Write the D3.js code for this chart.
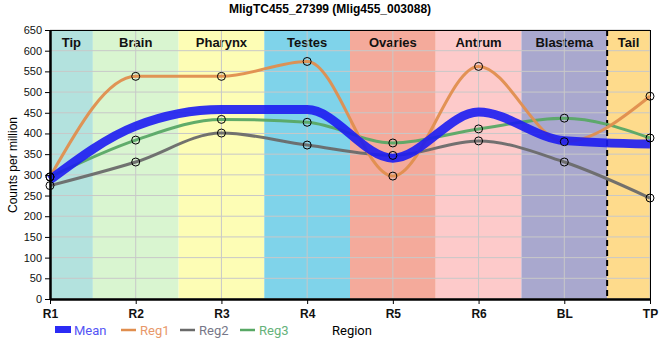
<!DOCTYPE html>
<html><head><meta charset="utf-8">
<script src="https://cdn.jsdelivr.net/npm/d3@7"></script>
<style>body{margin:0;background:#fff}svg{display:block}</style>
</head><body><svg id="c" width="660" height="360"></svg>
<script>
const title = "MligTC455_27399 (Mlig455_003088)";
const categories = ["R1","R2","R3","R4","R5","R6","BL","TP"];
const reg1 = [295, 538, 538, 574, 297, 562, 380, 490];
const reg2 = [274, 331, 401, 372, 347, 382, 331, 244];
const reg3 = [295, 384, 434, 427, 377, 411, 437, 389];
const mean = categories.map((_, i) => (reg1[i] + reg2[i] + reg3[i]) / 3);
const regionNames = ["Tip","Brain","Pharynx","Testes","Ovaries","Antrum","Blastema","Tail"];
const regionColors = ["#b3e2de","#d9f5d0","#fdfdb5","#7fd3ea","#f4aa9b","#fdcaca","#a9a8ce","#fedb8c"];
const yTicks = d3.range(0, 651, 50);

const svg = d3.select("#c");
const L = 50, R = 650, T = 30, B = 299;
const x = d3.scalePoint().domain(categories).range([L, R]);
const y = d3.scaleLinear().domain([0, 650]).range([B, T]);
const step = x.step();

// bands
regionNames.forEach((n, i) => {
  const cx = x(categories[i]);
  const x0 = Math.max(L, cx - step / 2), x1 = Math.min(R, cx + step / 2);
  svg.append("rect").attr("x", x0).attr("y", T).attr("width", x1 - x0).attr("height", B - T)
    .attr("fill", regionColors[i]);
  svg.append("text").attr("x", (x0 + x1) / 2).attr("y", T + 17).attr("text-anchor", "middle")
    .attr("font-family", "Liberation Sans, Arial, sans-serif").attr("font-weight", "bold")
    .attr("font-size", 13).attr("fill", "#111").text(n);
});

// grid
svg.append("g").selectAll("line").data(yTicks).join("line")
  .attr("x1", L).attr("x2", R).attr("y1", d => y(d)).attr("y2", d => y(d))
  .attr("stroke", "#c8c8c8").attr("stroke-width", 1);
svg.append("g").selectAll("line").data(categories).join("line")
  .attr("x1", d => x(d)).attr("x2", d => x(d)).attr("y1", T).attr("y2", B)
  .attr("stroke", "#c8c8c8").attr("stroke-width", 1);

// dashed separator between BL and TP
const sep = x("BL") + step / 2;
svg.append("line").attr("x1", sep).attr("x2", sep).attr("y1", T).attr("y2", B)
  .attr("stroke", "#000").attr("stroke-width", 2).attr("stroke-dasharray", "6,4");

// border
svg.append("line").attr("x1", L).attr("x2", R).attr("y1", T + 0.5).attr("y2", T + 0.5).attr("stroke", "#000");
svg.append("line").attr("x1", R + 0.5).attr("x2", R + 0.5).attr("y1", T).attr("y2", B).attr("stroke", "#000");

// lines
const line = d3.line().x((d, i) => x(categories[i])).y(d => y(d)).curve(d3.curveMonotoneX);
const series = [
  {name: "Reg2", vals: reg2, color: "#6a6a6a", w: 3},
  {name: "Reg3", vals: reg3, color: "#58a865", w: 3},
  {name: "Reg1", vals: reg1, color: "#e08e4e", w: 3},
];
series.forEach(s => {
  svg.append("path").attr("d", line(s.vals)).attr("fill", "none")
    .attr("stroke", s.color).attr("stroke-width", s.w).attr("opacity", 0.95);
});
svg.append("path").attr("d", line(mean)).attr("fill", "none")
  .attr("stroke", "#1c1cf2").attr("stroke-width", 9).attr("opacity", 0.9);
series.forEach(s => {
  svg.append("g").selectAll("circle").data(s.vals).join("circle")
    .attr("cx", (d, i) => x(categories[i])).attr("cy", d => y(d)).attr("r", 4)
    .attr("fill", "none").attr("stroke", "#000").attr("stroke-width", 1);
});

// axes
const yAxis = svg.append("g").attr("transform", `translate(${L},0)`)
  .call(d3.axisLeft(y).tickValues(yTicks).tickSize(5).tickSizeOuter(0));
yAxis.select(".domain").attr("stroke-width", 2.5);
yAxis.selectAll("text").attr("font-family", "Liberation Sans, Arial, sans-serif").attr("font-size", 11).attr("fill", "#111");
const xAxis = svg.append("g").attr("transform", `translate(0,${B})`)
  .call(d3.axisBottom(x).tickSize(5).tickSizeOuter(0));
xAxis.select(".domain").attr("stroke-width", 2.5);
xAxis.selectAll("text").attr("font-family", "Liberation Sans, Arial, sans-serif").attr("font-weight", "bold")
  .attr("font-size", 12).attr("fill", "#111").attr("dy", "0.9em");

// title
svg.append("text").attr("x", 330).attr("y", 13).attr("text-anchor", "middle")
  .attr("font-family", "Liberation Sans, Arial, sans-serif").attr("font-weight", "bold").attr("font-size", 12)
  .text(title);
svg.append("text").attr("transform", "translate(17,165) rotate(-90)").attr("text-anchor", "middle")
  .attr("font-family", "Liberation Sans, Arial, sans-serif").attr("font-size", 12).text("Counts per million");

// legend
const lg = svg.append("g").attr("font-family", "Roboto, Liberation Sans, sans-serif").attr("font-size", 13);
const legendItems = [
  {name: "Mean", color: "#2b2bf5", tc: "#5555f5", x: 55, thick: true},
  {name: "Reg1", color: "#e08e4e", tc: "#e8986a", x: 121},
  {name: "Reg2", color: "#6a6a6a", tc: "#777788", x: 180},
  {name: "Reg3", color: "#58a865", tc: "#66b27a", x: 240},
];
legendItems.forEach(it => {
  if (it.thick) lg.append("rect").attr("x", it.x).attr("y", 326).attr("width", 16).attr("height", 7).attr("fill", it.color);
  else lg.append("line").attr("x1", it.x).attr("x2", it.x + 15).attr("y1", 330).attr("y2", 330).attr("stroke", it.color).attr("stroke-width", 2.5);
  lg.append("text").attr("x", it.x + 19).attr("y", 335).attr("fill", it.tc).text(it.name);
});
lg.append("text").attr("x", 332).attr("y", 335).attr("fill", "#000").attr("font-size", 13).text("Region");
</script></body></html>
